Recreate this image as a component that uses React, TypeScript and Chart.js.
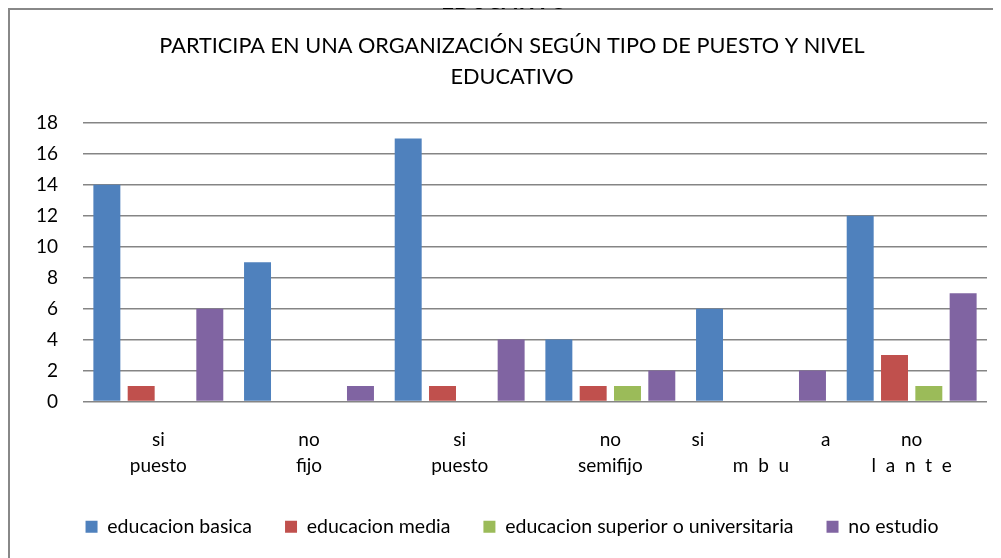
import React, { useEffect, useRef } from "react";
import { Chart, registerables } from "chart.js";

Chart.register(...registerables);

const FONT = "Lato";

const headingText = "EDUCATIVO";
const titleLines = [
  "PARTICIPA EN UNA ORGANIZACIÓN SEGÚN TIPO DE PUESTO Y NIVEL",
  "EDUCATIVO",
];

const categoriesTop = ["si", "no", "si", "no", "si                        a", "no"];
const categoriesBottom = ["puesto", "fijo", "puesto", "semifijo", "m  b  u", "l  a  n  t  e"];

const seriesNames = [
  "educacion basica",
  "educacion media",
  "educacion superior o universitaria",
  "no estudio",
];
const seriesColors = ["#4F81BD", "#C0504D", "#9BBB59", "#8064A2"];

const educacionBasica = [14, 9, 17, 4, 6, 12];
const educacionMedia = [1, 0, 1, 1, 0, 3];
const educacionSuperior = [0, 0, 0, 1, 0, 1];
const noEstudio = [6, 1, 4, 2, 2, 7];

const yMin = 0;
const yMax = 18;
const yStep = 2;

export default function App() {
  const canvasRef = useRef<HTMLCanvasElement | null>(null);

  useEffect(() => {
    if (!canvasRef.current) return;
    const seriesValues = [educacionBasica, educacionMedia, educacionSuperior, noEstudio];
    const chart = new Chart(canvasRef.current, {
      type: "bar",
      data: {
        labels: categoriesTop.map((t, i) => [t, categoriesBottom[i]]),
        datasets: seriesNames.map((name, i) => ({
          label: name,
          data: seriesValues[i],
          backgroundColor: seriesColors[i],
          borderWidth: 0,
          categoryPercentage: 0.911,
          barPercentage: 0.786,
        })),
      },
      options: {
        animation: false,
        responsive: true,
        maintainAspectRatio: false,
        layout: { padding: { left: 27, right: 14, top: 0, bottom: 11.5 } },
        plugins: {
          title: {
            display: true,
            text: titleLines,
            color: "#000",
            font: { family: FONT, size: 21.7, weight: "normal", lineHeight: 1.43 },
            padding: { top: 20, bottom: 30.9 },
          },
          legend: {
            position: "bottom",
            labels: {
              color: "#000",
              font: { family: FONT, size: 19.5 },
              boxWidth: 12,
              boxHeight: 12,
              padding: 33,
            },
          },
          tooltip: { enabled: false },
        },
        scales: {
          x: {
            grid: { display: false },
            border: { display: false },
            ticks: {
              color: "#000",
              font: { family: FONT, size: 19, lineHeight: 1.35 },
              padding: 17.5,
              maxRotation: 0,
              minRotation: 0,
              autoSkip: false,
            },
            afterFit: (s: any) => {
              s.height = 82.5;
            },
          },
          y: {
            min: yMin,
            max: yMax,
            ticks: {
              stepSize: yStep,
              color: "#000",
              font: { family: FONT, size: 19 },
              padding: 25,
            },
            grid: { color: "#858585", lineWidth: 1.6, drawTicks: false },
            border: { display: false },
            afterFit: (s: any) => {
              s.width = 46;
            },
          },
        },
      },
    });
    return () => chart.destroy();
  }, []);

  return (
    <div style={{ position: "relative", width: 993, height: 550 }}>
      <div
        style={{
          position: "absolute",
          left: 0,
          top: -18,
          width: 993,
          textAlign: "center",
          fontFamily: FONT,
          fontWeight: "bold",
          fontSize: 22,
          lineHeight: "22px",
          color: "#000",
          zIndex: 2,
        }}
      >
        {headingText}
      </div>
      <div style={{ position: "absolute", left: 0, top: 0, width: 993, height: 550, overflow: "hidden" }}>
        <div
          style={{
            position: "absolute",
            left: 0,
            top: 0,
            width: 1200,
            height: 800,
            border: "2px solid #888",
            boxSizing: "border-box",
          }}
        />
        <div style={{ position: "absolute", left: 2, top: 2, width: 991, height: 548 }}>
          <canvas ref={canvasRef} />
        </div>
      </div>
    </div>
  );
}
